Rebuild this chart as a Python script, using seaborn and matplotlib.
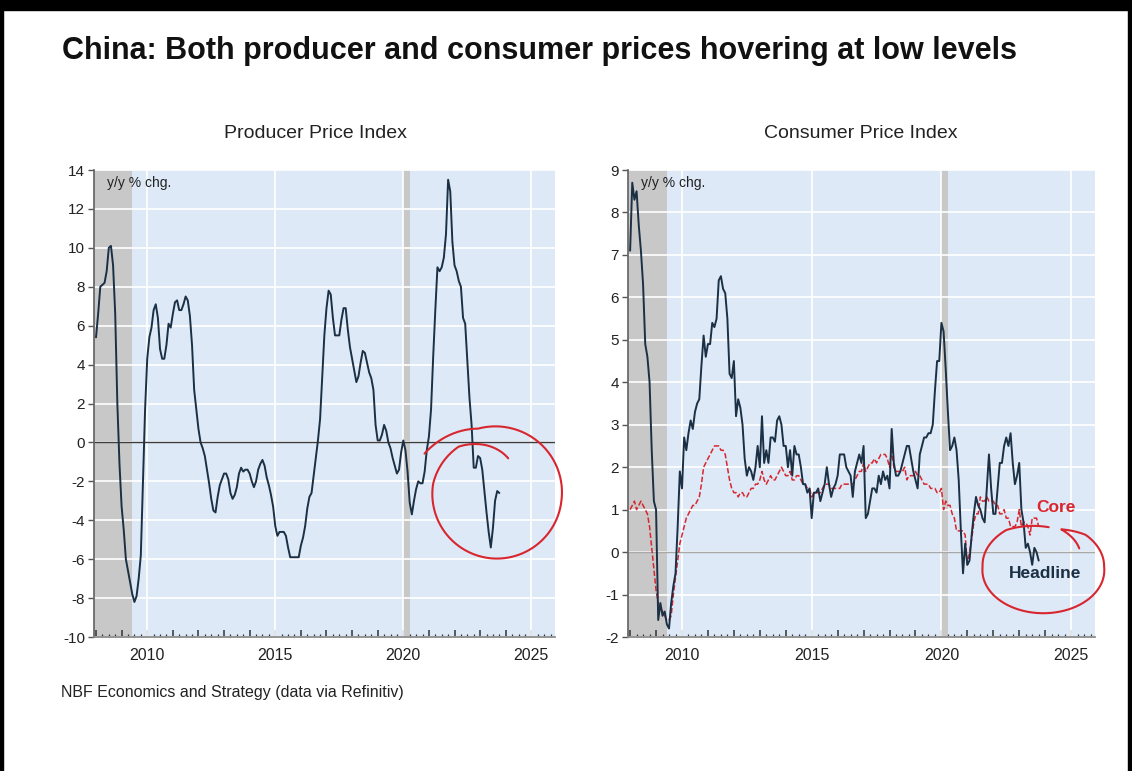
import numpy as np
import pandas as pd
import matplotlib
matplotlib.use("Agg")
import matplotlib.pyplot as plt
import matplotlib.ticker as mticker
from matplotlib.patches import Rectangle
import seaborn as sns

# Monthly data, y/y % chg., starting Jan 2008
ppi = [
    5.4, 6.6, 8.0, 8.1, 8.2, 8.8, 10.0, 10.1, 9.1, 6.6, 2.0, -1.1,
    -3.3, -4.5, -6.0, -6.6, -7.2, -7.8, -8.2, -7.9, -7.0, -5.8, -2.1, 1.7,
    4.3, 5.4, 5.9, 6.8, 7.1, 6.4, 4.8, 4.3, 4.3, 5.0, 6.1, 5.9,
    6.6, 7.2, 7.3, 6.8, 6.8, 7.1, 7.5, 7.3, 6.5, 5.0, 2.7, 1.7,
    0.7, 0.0, -0.3, -0.7, -1.4, -2.1, -2.9, -3.5, -3.6, -2.8, -2.2, -1.9,
    -1.6, -1.6, -1.9, -2.6, -2.9, -2.7, -2.3, -1.6, -1.3, -1.5, -1.4, -1.4,
    -1.6, -2.0, -2.3, -2.0, -1.4, -1.1, -0.9, -1.2, -1.8, -2.2, -2.7, -3.3,
    -4.3, -4.8, -4.6, -4.6, -4.6, -4.8, -5.4, -5.9, -5.9, -5.9, -5.9, -5.9,
    -5.3, -4.9, -4.3, -3.4, -2.8, -2.6, -1.7, -0.8, 0.1, 1.2, 3.3, 5.5,
    6.9, 7.8, 7.6, 6.4, 5.5, 5.5, 5.5, 6.3, 6.9, 6.9, 5.8, 4.9,
    4.3, 3.7, 3.1, 3.4, 4.1, 4.7, 4.6, 4.1, 3.6, 3.3, 2.7, 0.9,
    0.1, 0.1, 0.4, 0.9, 0.6, 0.0, -0.3, -0.8, -1.2, -1.6, -1.4, -0.5,
    0.1, -0.4, -1.5, -3.1, -3.7, -3.0, -2.4, -2.0, -2.1, -2.1, -1.5, -0.4,
    0.3, 1.7, 4.4, 6.8, 9.0, 8.8, 9.0, 9.5, 10.7, 13.5, 12.9, 10.3,
    9.1, 8.8, 8.3, 8.0, 6.4, 6.1, 4.2, 2.3, 0.9, -1.3, -1.3, -0.7,
    -0.8, -1.4, -2.5, -3.6, -4.6, -5.4, -4.4, -3.0, -2.5, -2.6,
]

cpi_headline = [
    7.1, 8.7, 8.3, 8.5, 7.7, 7.1, 6.3, 4.9, 4.6, 4.0, 2.4, 1.2,
    1.0, -1.6, -1.2, -1.5, -1.4, -1.7, -1.8, -1.2, -0.8, -0.5, 0.6, 1.9,
    1.5, 2.7, 2.4, 2.8, 3.1, 2.9, 3.3, 3.5, 3.6, 4.4, 5.1, 4.6,
    4.9, 4.9, 5.4, 5.3, 5.5, 6.4, 6.5, 6.2, 6.1, 5.5, 4.2, 4.1,
    4.5, 3.2, 3.6, 3.4, 3.0, 2.2, 1.8, 2.0, 1.9, 1.7, 2.0, 2.5,
    2.0, 3.2, 2.1, 2.4, 2.1, 2.7, 2.7, 2.6, 3.1, 3.2, 3.0, 2.5,
    2.5, 2.0, 2.4, 1.8, 2.5, 2.3, 2.3, 2.0, 1.6, 1.6, 1.4, 1.5,
    0.8, 1.4, 1.4, 1.5, 1.2, 1.4, 1.6, 2.0, 1.6, 1.3, 1.5, 1.6,
    1.8, 2.3, 2.3, 2.3, 2.0, 1.9, 1.8, 1.3, 1.9, 2.1, 2.3, 2.1,
    2.5, 0.8, 0.9, 1.2, 1.5, 1.5, 1.4, 1.8, 1.6, 1.9, 1.7, 1.8,
    1.5, 2.9, 2.1, 1.8, 1.8, 1.9, 2.1, 2.3, 2.5, 2.5, 2.2, 1.9,
    1.7, 1.5, 2.3, 2.5, 2.7, 2.7, 2.8, 2.8, 3.0, 3.8, 4.5, 4.5,
    5.4, 5.2, 4.3, 3.3, 2.4, 2.5, 2.7, 2.4, 1.7, 0.5, -0.5, 0.2,
    -0.3, -0.2, 0.4, 0.9, 1.3, 1.1, 1.0, 0.8, 0.7, 1.5, 2.3, 1.5,
    0.9, 0.9, 1.5, 2.1, 2.1, 2.5, 2.7, 2.5, 2.8, 2.1, 1.6, 1.8,
    2.1, 1.0, 0.7, 0.1, 0.2, 0.0, -0.3, 0.1, 0.0, -0.2,
]

cpi_core = [
    1.0, 1.1, 1.2, 1.0, 1.1, 1.2, 1.1, 1.0, 0.9, 0.6, 0.1, -0.4,
    -0.9, -1.2, -1.3, -1.4, -1.5, -1.6, -1.6, -1.5, -1.0, -0.6, -0.2, 0.2,
    0.4, 0.6, 0.8, 0.9, 1.0, 1.1, 1.1, 1.2, 1.3, 1.6, 2.0, 2.1,
    2.2, 2.3, 2.4, 2.5, 2.5, 2.5, 2.4, 2.4, 2.3, 2.0, 1.7, 1.5,
    1.4, 1.4, 1.3, 1.4, 1.4, 1.3, 1.3, 1.4, 1.5, 1.5, 1.6, 1.6,
    1.7, 1.9, 1.7, 1.6, 1.7, 1.8, 1.7, 1.7, 1.8, 1.9, 2.0, 1.9,
    1.8, 1.8, 1.9, 1.7, 1.7, 1.8, 1.8, 1.7, 1.6, 1.6, 1.5, 1.5,
    1.3, 1.4, 1.4, 1.4, 1.4, 1.5, 1.6, 1.6, 1.6, 1.5, 1.5, 1.5,
    1.5, 1.5, 1.6, 1.6, 1.6, 1.6, 1.6, 1.6, 1.7, 1.8, 1.9, 1.9,
    2.1, 1.9, 2.0, 2.1, 2.1, 2.2, 2.1, 2.2, 2.3, 2.3, 2.3, 2.2,
    2.0, 2.4, 2.0, 1.9, 1.9, 1.9, 1.9, 2.0, 1.7, 1.8, 1.8, 1.8,
    1.9, 1.8, 1.8, 1.7, 1.6, 1.6, 1.6, 1.5, 1.5, 1.5, 1.4, 1.4,
    1.5, 1.0, 1.2, 1.1, 1.1, 0.9, 0.8, 0.5, 0.5, 0.5, 0.5, 0.4,
    -0.3, 0.0, 0.3, 0.7, 0.9, 0.9, 1.3, 1.2, 1.2, 1.3, 1.2, 1.2,
    1.2, 1.1, 1.1, 0.9, 0.9, 1.0, 0.8, 0.8, 0.6, 0.6, 0.6, 0.7,
    1.0, 0.6, 0.7, 0.7, 0.6, 0.4, 0.8, 0.8, 0.8, 0.6,
]

# recession shading (decimal years)
recessions = [(2007.92, 2009.42), (2019.97, 2020.25)]
grid_years = [2010, 2015, 2020, 2025]

NAVY = "#1b3044"
RED = "#d8262e"
BG = "#dde9f7"
SHADE = "#c8c8c8"

months = pd.date_range("2008-01-01", periods=len(ppi), freq="MS")
df = pd.DataFrame({
    "year": months.year + (months.month - 1) / 12,
    "ppi": ppi,
    "headline": cpi_headline,
    "core": cpi_core,
})

sns.set_theme(style="white")
plt.rcParams["font.family"] = ["Liberation Sans", "DejaVu Sans"]
plt.rcParams["axes.unicode_minus"] = False

fig = plt.figure(figsize=(11.32, 7.71), dpi=100)
ax1 = fig.add_axes([0.0830, 0.1738, 0.4072, 0.6057])
ax2 = fig.add_axes([0.5548, 0.1738, 0.4125, 0.6057])


def style_axis(ax, ylim, ystep, zero_color):
    ax.set_facecolor(BG)
    ax.set_xlim(2007.92, 2025.92)
    ax.set_ylim(*ylim)
    for a, b in recessions:
        ax.axvspan(a, b, color=SHADE, lw=0, zorder=0.5)
    ax.yaxis.set_major_locator(mticker.MultipleLocator(ystep))
    ax.grid(axis="y", color="white", lw=1.2, zorder=0.6)
    for yr in grid_years:
        ax.axvline(yr, color="white", lw=1.2, zorder=0.6)
    ax.axhline(0, color=zero_color, lw=1.0, zorder=1)
    ax.xaxis.set_major_locator(mticker.MultipleLocator(1))
    ax.xaxis.set_minor_locator(mticker.MultipleLocator(0.25))
    ax.xaxis.set_major_formatter(mticker.FuncFormatter(
        lambda v, p: f"{int(round(v))}" if round(v) % 5 == 0 else ""))
    ax.tick_params(axis="x", which="major", direction="in", length=5, width=1.1,
                   color="#333333", labelsize=11.5, pad=8, bottom=True,
                   labelcolor="#222222")
    ax.tick_params(axis="x", which="minor", direction="in", length=2.5, width=0.9,
                   color="#333333", bottom=True)
    ax.tick_params(axis="y", which="major", direction="out", length=4.5, width=1,
                   color="#555555", labelsize=11, pad=2, left=True,
                   labelcolor="#222222")
    for s in ["top", "right"]:
        ax.spines[s].set_visible(False)
    ax.spines["left"].set_color("#666666")
    ax.spines["bottom"].set_color("#888888")
    ax.set_xlabel("")
    ax.set_ylabel("")
    ax.text(0.028, 0.972, "y/y % chg.", transform=ax.transAxes, fontsize=10,
            va="center", ha="left", color="#222222")


def scribble(ax, cx, cy, rx, ry, angles, radii):
    t = np.linspace(0, len(angles) - 1, 500)
    idx = np.arange(len(angles))
    ang = np.radians(np.interp(t, idx, angles))
    rad = np.interp(t, idx, radii)
    ax.plot(cx + rx * rad * np.cos(ang), cy + ry * rad * np.sin(ang),
            color=RED, lw=1.5, clip_on=False, zorder=5)


# Producer Price Index
sns.lineplot(data=df, x="year", y="ppi", ax=ax1, color=NAVY, lw=1.4, zorder=3)
style_axis(ax1, (-10, 14), 2, "#3c3c3c")
scribble(ax1, 2023.65, -2.63, 2.54, 3.34,
         [151, 106, -6, -94, -189, -231, -288],
         [1.27, 1.04, 1.0, 1.0, 0.99, 0.93, 0.57])

# Consumer Price Index
sns.lineplot(data=df, x="year", y="core", ax=ax2, color=RED, lw=1.1, zorder=2)
ax2.lines[-1].set_dashes([3.5, 1.5])
sns.lineplot(data=df, x="year", y="headline", ax=ax2, color=NAVY, lw=1.4, zorder=3)
style_axis(ax2, (-2, 9), 1, "#a8a8a8")
ax2.text(2024.42, 1.04, "Core", color=RED, fontsize=12.5, fontweight="bold",
         ha="center", va="center", zorder=6)
ax2.text(2024.0, -0.5, "Headline", color=NAVY, fontsize=12.5, fontweight="bold",
         ha="center", va="center", zorder=6)
scribble(ax2, 2023.93, -0.43, 2.35, 1.01,
         [85, 123, 175, 266, 365, 410, 433, 401],
         [1.01, 1.12, 1.0, 1.0, 1.0, 1.08, 1.0, 0.78])

# titles and notes
fig.text(0.0548, 0.934, "China: Both producer and consumer prices hovering at low levels",
         fontsize=22, fontweight="bold", ha="left", va="center", color="#111111")
fig.text(315 / 1132, 1 - 134 / 771, "Producer Price Index", fontsize=14,
         ha="center", va="center", color="#222222")
fig.text(861 / 1132, 1 - 134 / 771, "Consumer Price Index", fontsize=14,
         ha="center", va="center", color="#222222")
fig.text(61 / 1132, 1 - 693 / 771, "NBF Economics and Strategy (data via Refinitiv)",
         fontsize=11.5, ha="left", va="center", color="#222222")

# frame around the picture
fig.patches.append(Rectangle((0, 1 - 10 / 771), 1, 10 / 771, transform=fig.transFigure,
                             color="black", zorder=10))
fig.patches.append(Rectangle((0, 0), 3 / 1132, 1, transform=fig.transFigure,
                             color="black", zorder=10))
fig.patches.append(Rectangle((1 - 4 / 1132, 0), 4 / 1132, 1, transform=fig.transFigure,
                             color="black", zorder=10))

fig.savefig("out.png", dpi=100)
